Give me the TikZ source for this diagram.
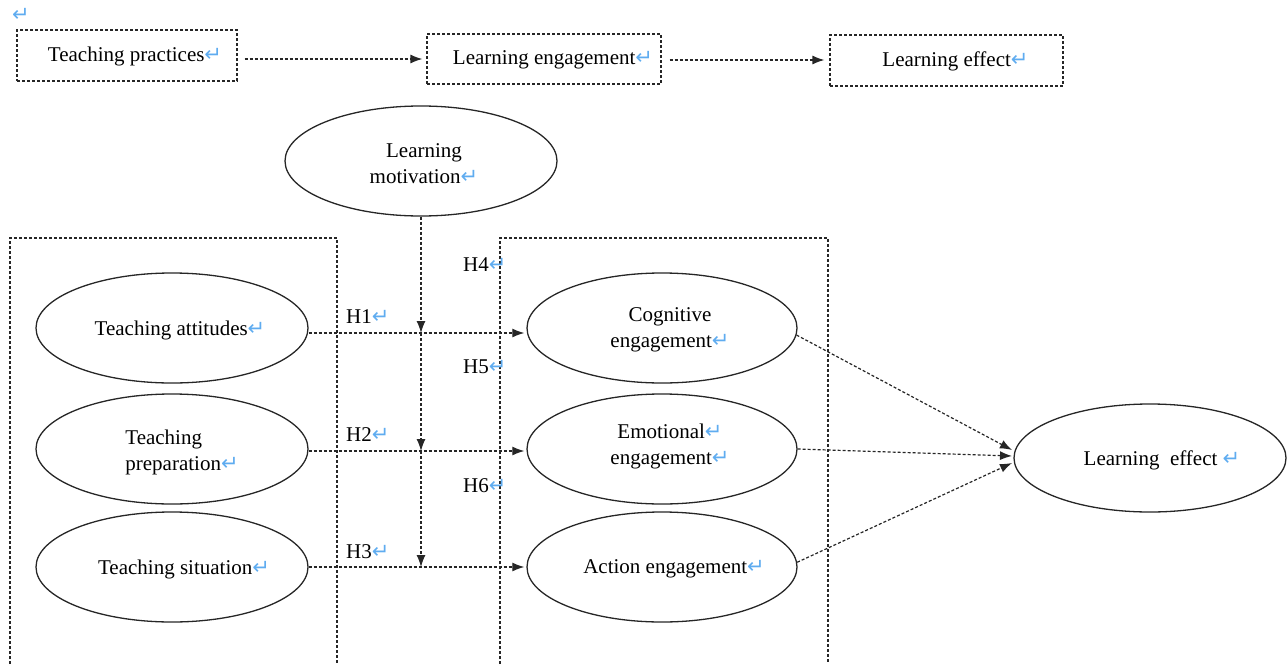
\documentclass[tikz,border=0pt]{standalone}
\usepackage{fontspec}
\setmainfont{Liberation Serif}
\newfontfamily\dejavu{DejaVu Sans}
\usetikzlibrary{shapes.geometric,arrows.meta}
\definecolor{retblue}{RGB}{95,172,240}
\newcommand\retmark{{\dejavu\color{retblue}\fontsize{21}{21}\selectfont ↵}}
\begin{document}
\begin{tikzpicture}[x=1pt,y=-1pt,
  dl/.style={draw=black!85,line width=1.2pt,dash pattern=on 3pt off 2pt},
  arr/.style={dl,-{Latex[length=12pt,width=9pt]}},
  bx/.style={dl,rectangle,inner sep=0pt},
  ell/.style={draw=black!85,line width=1.3pt,ellipse,minimum width=272pt,minimum height=110pt,inner sep=0pt},
  tx/.style={inner sep=0pt,align=center,font=\fontsize{21}{26}\selectfont},
  lab/.style={anchor=west,inner sep=0pt,font=\fontsize{21}{24}\selectfont}
]
\useasboundingbox (0,0) rectangle (1288,664);

% top row
\node[inner sep=0pt] (topret) at (21,15) {\retmark};
\node[bx,minimum width=220pt,minimum height=51pt] (tp) at (127,55.5) {};
\node[bx,minimum width=234pt,minimum height=50pt] (le1) at (544,59) {};
\node[bx,minimum width=233pt,minimum height=51pt] (lf1) at (946.5,60.5) {};
\node[tx] (tpt) at ([shift={(8,1)}]tp.center) {Teaching practices\retmark};
\node[tx] (le1t) at ([shift={(9,1)}]le1.center) {Learning engagement\retmark};
\node[tx] (lf1t) at ([shift={(9,1)}]lf1.center) {Learning effect\retmark};
\draw[arr,shorten <=7pt,shorten >=4pt] (tp.east |- 0,59) -- (le1.west |- 0,59);
\draw[arr,shorten <=8pt,shorten >=5pt] (le1.east |- 0,60) -- (lf1.west |- 0,60);

% group frames
\draw[dl] (10,664) -- (10,238) -- (337,238) -- (337,664);
\draw[dl] (500,664) -- (500,238) -- (828,238) -- (828,664);

% motivation
\node[ell] (mot) at (421,161) {};
\node[tx] (mott) at ([shift={(3,3)}]mot.center) {Learning\\motivation\retmark};

% left ellipses
\node[ell] (ta) at (172,328) {};
\node[ell] (tprep) at (172,449) {};
\node[ell] (ts) at (172,567) {};
\node[tx] (tat) at ([shift={(8,2)}]ta.center) {Teaching attitudes\retmark};
\node[tx,align=left] (tprept) at ([shift={(10,3)}]tprep.center) {Teaching\\preparation\retmark};
\node[tx] (tst) at ([shift={(12,2)}]ts.center) {Teaching situation\retmark};

% right ellipses
\node[ell,minimum width=270pt] (ce) at (662,328) {};
\node[ell,minimum width=270pt] (ee) at (662,449) {};
\node[ell,minimum width=270pt] (ae) at (662,567) {};
\node[tx] (cet) at ([shift={(8,2)}]ce.center) {Cognitive\\engagement\retmark};
\node[tx] (eet) at ([shift={(8,-3)}]ee.center) {Emotional\retmark\\engagement\retmark};
\node[tx] (aet) at ([shift={(12,2)}]ae.center) {Action engagement\retmark};

% learning effect
\node[ell,minimum height=108pt] (lf) at (1150,458) {};
\node[tx] (lft) at ([shift={(12,2)}]lf.center) {Learning\ \ effect \retmark};

% junctions
\coordinate (j1) at (421,333);
\coordinate (j2) at (421,451);
\coordinate (j3) at (421,567);

\draw[arr] (mot.south) -- (j1);
\draw[arr] (j1) -- (j2);
\draw[arr] (j2) -- (j3);

\draw[arr,shorten >=2pt] (ta.east |- j1) -- (ce.west |- j1);
\draw[arr,shorten >=2pt] (tprep.east |- j2) -- (ee.west |- j2);
\draw[arr,shorten >=2pt] (ts.east |- j3) -- (ae.west |- j3);

\coordinate (e1) at (1012,450);
\coordinate (e2) at (1012,456);
\coordinate (e3) at (1012,463);
\draw[arr] (ce.-3) -- (e1);
\draw[arr] (ee.east) -- (e2);
\draw[arr] (ae.2) -- (e3);

% labels
\node[lab] (h1) at (346,317) {H1\retmark};
\node[lab] (h2) at (346,435) {H2\retmark};
\node[lab] (h3) at (346,552) {H3\retmark};
\node[lab] (h4) at (463,265) {H4\retmark};
\node[lab] (h5) at (463,367) {H5\retmark};
\node[lab] (h6) at (463,486) {H6\retmark};
\end{tikzpicture}
\end{document}
